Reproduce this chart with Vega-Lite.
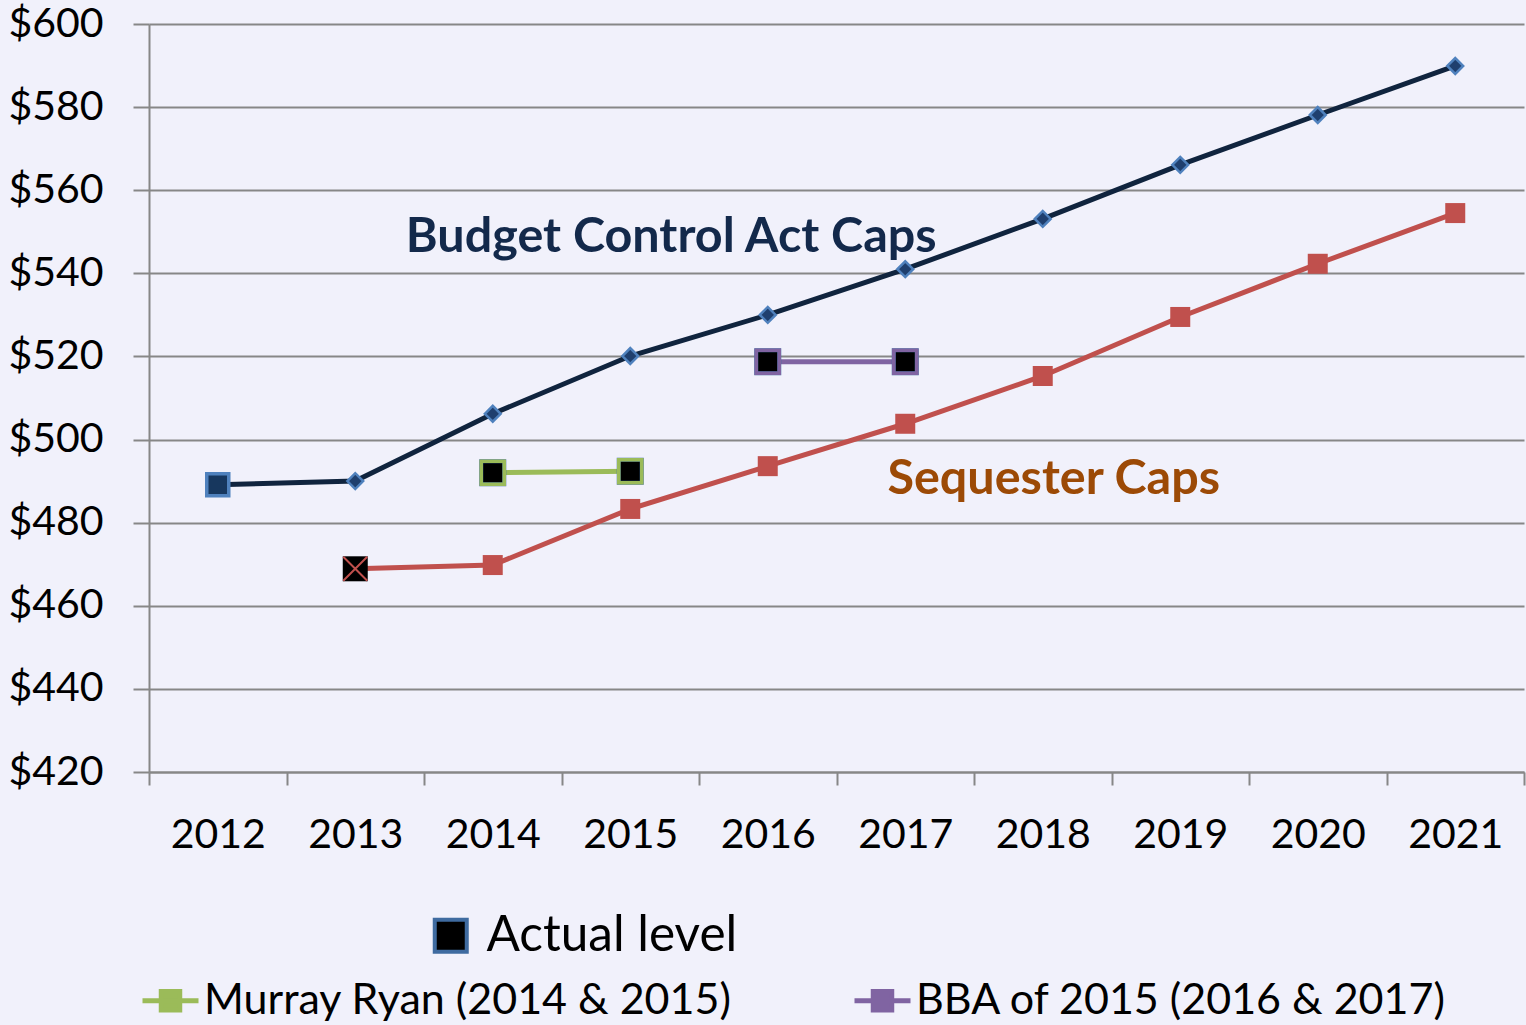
{
  "$schema": "https://vega.github.io/schema/vega-lite/v6.json",
  "width": 1375,
  "height": 748,
  "autosize": {"type": "none"},
  "padding": {"left": 149, "top": 24, "right": 2, "bottom": 253},
  "background": "#F1F1FB",
  "config": {
    "view": {"stroke": null},
    "font": "Lato",
    "axis": {
      "labelFont": "Lato",
      "labelFontSize": 41,
      "labelColor": "#000000",
      "domainColor": "#878787",
      "domainWidth": 2,
      "tickColor": "#878787",
      "tickWidth": 2,
      "gridColor": "#878787",
      "gridWidth": 2,
      "title": null
    },
    "legend": {
      "labelFont": "Lato",
      "labelColor": "#000000",
      "labelLimit": 800,
      "padding": 0,
      "titlePadding": 0
    }
  },
  "datasets": {
    "caps": [
      {"year": "2012", "series": "Budget Control Act Caps", "value": 489.1},
      {"year": "2013", "series": "Budget Control Act Caps", "value": 490.0},
      {"year": "2014", "series": "Budget Control Act Caps", "value": 506.2},
      {"year": "2015", "series": "Budget Control Act Caps", "value": 520.1},
      {"year": "2016", "series": "Budget Control Act Caps", "value": 530.0},
      {"year": "2017", "series": "Budget Control Act Caps", "value": 541.0},
      {"year": "2018", "series": "Budget Control Act Caps", "value": 553.1},
      {"year": "2019", "series": "Budget Control Act Caps", "value": 566.1},
      {"year": "2020", "series": "Budget Control Act Caps", "value": 578.1},
      {"year": "2021", "series": "Budget Control Act Caps", "value": 589.9},
      {"year": "2013", "series": "Sequester Caps", "value": 468.9},
      {"year": "2014", "series": "Sequester Caps", "value": 469.8},
      {"year": "2015", "series": "Sequester Caps", "value": 483.3},
      {"year": "2016", "series": "Sequester Caps", "value": 493.6},
      {"year": "2017", "series": "Sequester Caps", "value": 503.8},
      {"year": "2018", "series": "Sequester Caps", "value": 515.3},
      {"year": "2019", "series": "Sequester Caps", "value": 529.5},
      {"year": "2020", "series": "Sequester Caps", "value": 542.3},
      {"year": "2021", "series": "Sequester Caps", "value": 554.5},
      {"year": "2014", "series": "Murray Ryan (2014 & 2015)", "value": 492.0},
      {"year": "2015", "series": "Murray Ryan (2014 & 2015)", "value": 492.4},
      {"year": "2016", "series": "BBA of 2015 (2016 & 2017)", "value": 518.7},
      {"year": "2017", "series": "BBA of 2015 (2016 & 2017)", "value": 518.7}
    ],
    "labels": [
      {"year": "2015", "label": "Budget Control Act Caps", "value": 545.2},
      {"year": "2018", "label": "Sequester Caps", "value": 486.8}
    ]
  },
  "data": {"name": "caps"},
  "encoding": {
    "x": {
      "field": "year",
      "type": "ordinal",
      "scale": {"domain": ["2012","2013","2014","2015","2016","2017","2018","2019","2020","2021"], "paddingInner": 0, "paddingOuter": 0},
      "axis": {"labelAngle": 0, "tickBand": "extent", "grid": false, "tickSize": 13, "labelPadding": 30}
    },
    "y": {
      "field": "value",
      "type": "quantitative",
      "scale": {"domain": [420, 600], "nice": false, "zero": false},
      "axis": {"values": [420,440,460,480,500,520,540,560,580,600], "format": "$.0f", "grid": true, "tickSize": 16, "labelPadding": 30}
    }
  },
  "layer": [
    {
      "mark": {"type": "line", "strokeWidth": 5},
      "encoding": {
        "color": {
          "field": "series",
          "type": "nominal",
          "scale": {
            "domain": ["Budget Control Act Caps", "Sequester Caps", "Murray Ryan (2014 & 2015)", "BBA of 2015 (2016 & 2017)"],
            "range": ["#10243E", "#C0504D", "#9BBB59", "#8064A2"]
          },
          "legend": {
            "values": ["Murray Ryan (2014 & 2015)", "BBA of 2015 (2016 & 2017)"],
            "title": null,
            "orient": "none",
            "legendX": -9,
            "legendY": 946,
            "direction": "horizontal",
            "columnPadding": 112,
            "labelFontSize": 43,
            "labelOffset": 3,
            "symbolType": "M-1,0H1M-0.33,-0.33H0.33V0.33H-0.33Z",
            "symbolSize": 3136,
            "symbolStrokeWidth": 5,
            "encode": {
              "symbols": {
                "update": {
                  "fill": {"scale": "color", "field": "value"},
                  "stroke": {"scale": "color", "field": "value"},
                  "strokeWidth": {"value": 5},
                  "opacity": {"value": 1}
                }
              }
            }
          }
        }
      }
    },
    {
      "transform": [{"filter": "datum.series === 'Budget Control Act Caps' && datum.year !== '2012'"}],
      "mark": {"type": "point", "shape": "diamond", "filled": true, "size": 250, "fill": "#1F3F6E", "stroke": "#4F81BD", "strokeWidth": 2.5, "opacity": 1}
    },
    {
      "transform": [{"filter": "datum.series === 'Sequester Caps' && datum.year !== '2013'"}],
      "mark": {"type": "square", "size": 400, "filled": true, "fill": "#C0504D", "stroke": "#C0504D", "strokeWidth": 0, "opacity": 1}
    },
    {
      "transform": [{"filter": "datum.series === 'Murray Ryan (2014 & 2015)' || datum.series === 'BBA of 2015 (2016 & 2017)'"}],
      "mark": {"type": "square", "size": 529, "stroke": "#3F6BA0", "strokeWidth": 4, "opacity": 1},
      "encoding": {
        "fill": {
          "datum": "Actual level",
          "scale": {"domain": ["Actual level"], "range": ["#000000"]},
          "legend": {
            "title": null,
            "orient": "none",
            "legendX": 277,
            "legendY": 887,
            "labelFontSize": 49.5,
            "labelOffset": 11,
            "symbolType": "square",
            "symbolSize": 1024,
            "symbolStrokeWidth": 4,
            "symbolStrokeColor": "#3F6BA0",
            "encode": {
              "symbols": {
                "update": {
                  "stroke": {"value": "#3F6BA0"},
                  "strokeOpacity": {"value": 1},
                  "strokeWidth": {"value": 4},
                  "opacity": {"value": 1}
                }
              }
            }
          }
        }
      }
    },
    {
      "transform": [{"filter": "datum.series === 'Murray Ryan (2014 & 2015)' || datum.series === 'BBA of 2015 (2016 & 2017)'"}],
      "mark": {"type": "square", "filled": false, "size": 529, "strokeWidth": 3.5, "opacity": 1},
      "encoding": {
        "stroke": {
          "field": "series",
          "type": "nominal",
          "scale": {"domain": ["Murray Ryan (2014 & 2015)", "BBA of 2015 (2016 & 2017)"], "range": ["#9BBB59", "#8064A2"]},
          "legend": null
        }
      }
    },
    {
      "transform": [{"filter": "datum.series === 'Budget Control Act Caps' && datum.year === '2012'"}],
      "mark": {"type": "square", "size": 484, "filled": true, "fill": "#17375E", "stroke": "#4F81BD", "strokeWidth": 3.5, "opacity": 1}
    },
    {
      "transform": [{"filter": "datum.series === 'Sequester Caps' && datum.year === '2013'"}],
      "mark": {"type": "square", "size": 625, "filled": true, "fill": "#000000", "strokeWidth": 0, "opacity": 1}
    },
    {
      "transform": [{"filter": "datum.series === 'Sequester Caps' && datum.year === '2013'"}],
      "mark": {"type": "point", "shape": "M-1,-1L1,1M1,-1L-1,1", "size": 576, "filled": false, "stroke": "#C0504D", "strokeWidth": 2, "opacity": 1}
    },
    {
      "data": {"name": "labels"},
      "transform": [{"filter": "datum.label === 'Budget Control Act Caps'"}],
      "mark": {"type": "text", "font": "Lato", "fontWeight": "bold", "fontSize": 48.5, "color": "#13294B", "align": "center", "baseline": "alphabetic", "dx": 41},
      "encoding": {"text": {"field": "label"}}
    },
    {
      "data": {"name": "labels"},
      "transform": [{"filter": "datum.label === 'Sequester Caps'"}],
      "mark": {"type": "text", "font": "Lato", "fontWeight": "bold", "fontSize": 48.5, "color": "#9C4A06", "align": "center", "baseline": "alphabetic", "dx": 11},
      "encoding": {"text": {"field": "label"}}
    }
  ]
}
